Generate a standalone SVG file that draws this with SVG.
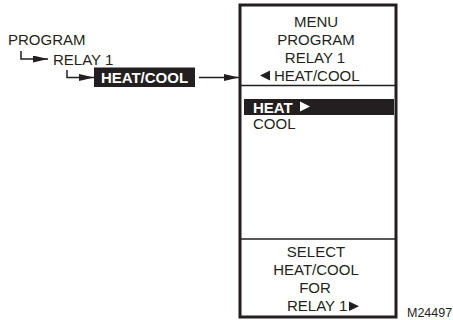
<svg xmlns="http://www.w3.org/2000/svg" width="453" height="320" viewBox="0 0 453 320">
<style>
text{font-family:"Liberation Sans",Arial,sans-serif;font-size:15px;fill:#231f20}
.c{text-anchor:middle}
.b{font-weight:bold;fill:#fff}
.ln{stroke:#231f20;stroke-width:1.5;fill:none}
.tri{fill:#231f20}
</style>
<defs>
<marker id="ah" viewBox="0 0 15 7" refX="15" refY="3.5" markerWidth="15" markerHeight="7" markerUnits="userSpaceOnUse" orient="auto">
<path d="M0,0 L15,3.5 L0,7 Z" fill="#231f20"/>
</marker>
</defs>
<rect width="453" height="320" fill="#fff"/>
<g id="menu-path">
<text x="8" y="45">PROGRAM</text>
<text x="53" y="65">RELAY 1</text>
</g>
<g id="heatcool-label">
<rect x="94" y="67.5" width="101" height="19.5" fill="#231f20"/>
<text class="b" x="144.5" y="83" text-anchor="middle">HEAT/COOL</text>
</g>
<g id="display">
<rect x="240" y="5" width="156" height="312" fill="none" stroke="#231f20" stroke-width="3"/>
<line class="ln" x1="240" y1="85.5" x2="396" y2="85.5"/>
<line class="ln" x1="240" y1="239" x2="396" y2="239"/>
<text class="c" x="316" y="27">MENU</text>
<text class="c" x="316" y="45">PROGRAM</text>
<text class="c" x="315" y="63">RELAY 1</text>
<polygon class="tri" points="260,75.5 270,70.5 270,80.5"/>
<text x="274" y="81">HEAT/COOL</text>
<rect x="244" y="99" width="150" height="16" fill="#231f20"/>
<text class="b" x="253" y="112.5">HEAT</text>
<polygon points="300,101.5 300,111.5 310,106.5" fill="#fff"/>
<text x="253" y="129">COOL</text>
<text class="c" x="316" y="257">SELECT</text>
<text class="c" x="316" y="275">HEAT/COOL</text>
<text class="c" x="315" y="293">FOR</text>
<text x="287" y="311">RELAY 1</text>
<polygon class="tri" points="349,301.5 349,311 359,306.25"/>
</g>
<g id="connectors">
<path class="ln" d="M21,51 V59 H48" marker-end="url(#ah)"/>
<path class="ln" d="M67,70 V77.5 H94" marker-end="url(#ah)"/>
<path class="ln" d="M199,77.5 H239" marker-end="url(#ah)"/>
</g>
<text x="407" y="317" style="font-size:12.5px">M24497</text>
</svg>
